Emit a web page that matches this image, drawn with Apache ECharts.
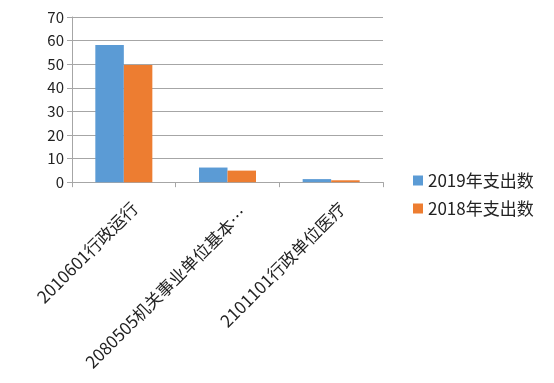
<!DOCTYPE html>
<html><head><meta charset="utf-8">
<script src="https://cdn.jsdelivr.net/npm/echarts@6/dist/echarts.min.js"></script>
<style>html,body{margin:0;padding:0;background:#fff}#c{width:554px;height:383px}</style>
</head><body><div id="c"></div>
<script>
const categories = ['2010601行政运行', '2080505机关事业单位基本…', '2101101行政单位医疗'];
const seriesNames = ['2019年支出数', '2018年支出数'];
const values2019 = [58.1, 6.2, 1.3];
const values2018 = [49.7, 4.9, 0.8];
const yTicks = [0, 10, 20, 30, 40, 50, 60, 70];
const colors = ['#5B9BD5', '#ED7D31'];
const font = '"Noto Sans CJK SC", "Microsoft YaHei", sans-serif';
const chart = echarts.init(document.getElementById('c'));
const catData = categories.map(function (c, i) {
  return i === 1 ? {value: c, textStyle: {lineHeight: 45}} : c;
});
chart.setOption({
  animation: false,
  backgroundColor: '#fff',
  grid: {left: 72, right: 171, top: 17, bottom: 200, containLabel: false},
  legend: {
    orient: 'vertical', left: 408, top: 167, itemWidth: 10, itemHeight: 10, itemGap: 11,
    icon: 'rect',
    textStyle: {fontFamily: font, fontSize: 17, color: '#222'},
    data: seriesNames
  },
  xAxis: {
    type: 'category', data: catData,
    axisLine: {lineStyle: {color: '#a6a6a6'}},
    axisTick: {show: true, length: 5, lineStyle: {color: '#a6a6a6'}},
    axisLabel: {rotate: 45, interval: 0, fontFamily: font, fontSize: 17, color: '#222', margin: 12,
      lineHeight: 31, formatter: function (v) { return ' \n' + v; }}
  },
  yAxis: {
    type: 'value', min: yTicks[0], max: yTicks[yTicks.length - 1], interval: yTicks[1] - yTicks[0],
    axisLine: {show: true, lineStyle: {color: '#a6a6a6'}},
    axisTick: {show: true, length: 5, lineStyle: {color: '#a6a6a6'}},
    axisLabel: {fontFamily: font, fontSize: 15, color: '#222', margin: 8},
    splitLine: {lineStyle: {color: '#a6a6a6'}}
  },
  series: [
    {name: seriesNames[0], type: 'bar', data: values2019, itemStyle: {color: colors[0]}, barGap: '0%', barCategoryGap: '45%'},
    {name: seriesNames[1], type: 'bar', data: values2018, itemStyle: {color: colors[1]}, barGap: '0%', barCategoryGap: '45%'}
  ]
});
</script></body></html>
